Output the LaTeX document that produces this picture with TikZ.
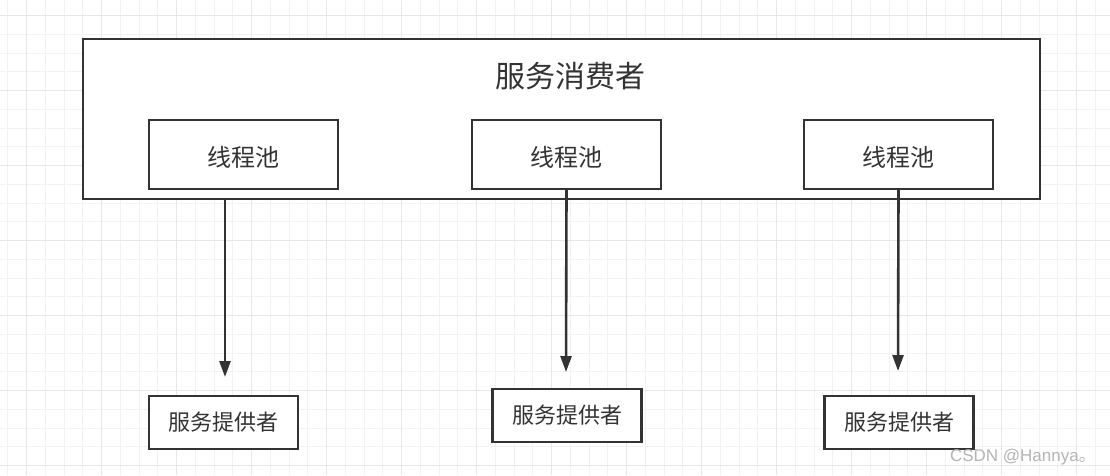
\documentclass[tikz,border=0pt]{standalone}
\usepackage{fontspec}
\newfontfamily\cjk{Noto Sans CJK SC}
\newfontfamily\markfont{Liberation Sans}
\usetikzlibrary{arrows.meta}

\definecolor{linegray}{HTML}{333333}
\definecolor{gridminor}{HTML}{F2F2F2}
\definecolor{gridmajor}{HTML}{E7E7E7}
\definecolor{markgray}{HTML}{B4B4B4}

\tikzset{
	box/.style={draw=linegray, line width=2.3pt, fill=white, inner sep=0pt, text=linegray},
	pool/.style={box, minimum width=189pt, minimum height=69pt, text height=24pt, text depth=0pt, font=\cjk\fontsize{24}{24}\selectfont},
	provider/.style={box, minimum width=149pt, minimum height=53pt, font=\cjk\fontsize{22}{22}\selectfont},
	arr/.style={draw=linegray, line width=2.6pt, -{Triangle[length=16pt,width=11pt]}}
}

\begin{document}
\begin{tikzpicture}[x=1pt,y=-1pt]
	\fill[white] (0,0) rectangle (1110,475);
	\useasboundingbox (0,0) rectangle (1110,475);
	
	% grid
	\foreach \i in {-1,...,58} {
		\pgfmathsetmacro\gx{26.7+18.75*\i}
		\draw[gridminor, line width=1pt] (\gx,0) -- (\gx,475);
	}
	\foreach \i in {0,...,25} {
		\pgfmathsetmacro\gy{15.7+18.75*\i}
		\draw[gridminor, line width=1pt] (0,\gy) -- (1110,\gy);
	}
	\foreach \i in {0,...,14} {
		\pgfmathsetmacro\gx{26.7+75*\i}
		\draw[gridmajor, line width=1.3pt] (\gx,0) -- (\gx,475);
	}
	\foreach \i in {0,...,6} {
		\pgfmathsetmacro\gy{15.7+75*\i}
		\draw[gridmajor, line width=1.3pt] (0,\gy) -- (1110,\gy);
	}
	
	% consumer
	\node[box, minimum width=957pt, minimum height=160pt] (consumer) at (561.5,119) {};
	\node[text=linegray, font=\cjk\fontsize{30}{30}\selectfont] (title) at (570,76) {服务消费者};
	
	\node[pool] (pool1) at (243.5,154.5) {线程池};
	\node[pool] (pool2) at (566.5,154.5) {线程池};
	\node[pool] (pool3) at (898.5,154.5) {线程池};
	
	% providers
	\node[provider] (prov1) at (223.5,422.5) {服务提供者};
	\node[provider] (prov2) at (567,415.5) {服务提供者};
	\node[provider] (prov3) at (899,422.5) {服务提供者};
	
	\coordinate (end1) at (225,377);
	\coordinate (end2) at (566,372);
	\coordinate (end3) at (898,371);
	
	\draw[arr] (end1 |- consumer.south) -- (end1);
	\draw[arr] (pool2.south) -- (end2);
	\draw[arr] (pool3.south) -- (end3);
	
	\node[anchor=east, text=markgray, inner sep=0pt] (mark) at (1096,457) {\markfont\fontsize{17}{17}\selectfont CSDN @Hannya\cjk 。};
\end{tikzpicture}
\end{document}
